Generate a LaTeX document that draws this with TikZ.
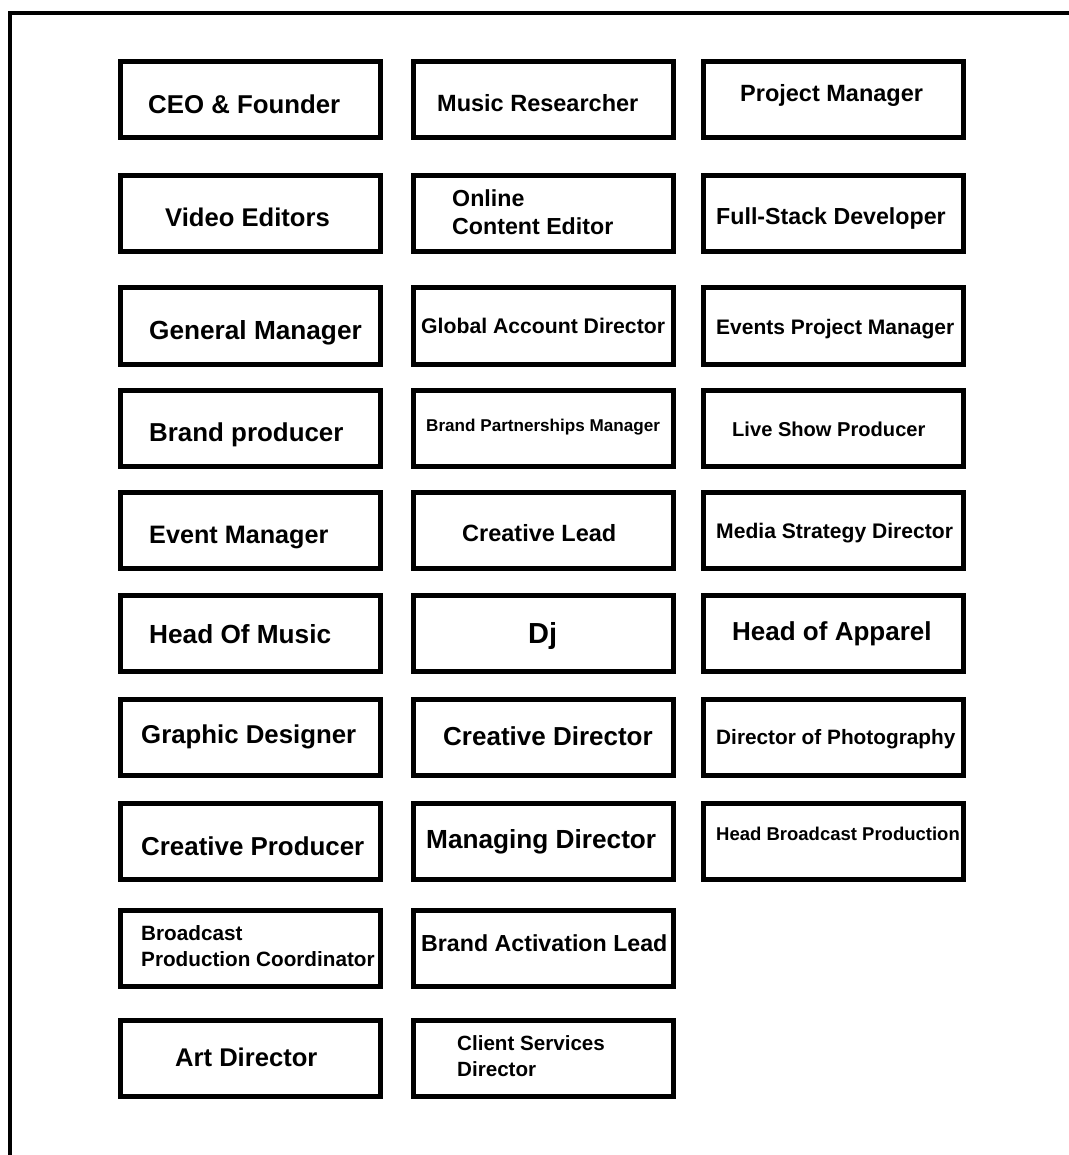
\documentclass[tikz,border=0pt]{standalone}
\usepackage{fontspec}
\setmainfont{Liberation Sans}
\usetikzlibrary{positioning}

\newcommand{\rolefont}[2][28]{\fontsize{#2}{#1}\selectfont\bfseries}

\begin{document}
\begin{tikzpicture}[x=1pt, y=-1pt,
	role/.style={draw, line width=5pt, minimum width=260pt, minimum height=76pt, inner sep=0pt},
	lbl/.style={anchor=base west, inner sep=0pt, align=left}]
	\useasboundingbox (0,0) rectangle (1068,1155);
	% Frame:
	\draw[line width=4.5pt] (10,1165) -- (10,13) -- (1075,13);

	% Boxes:
	\node[role] (ceo)          at (250.5,100)  {};
	\node[role] (research)     at (543,100)    {};
	\node[role] (pm)           at (833,100)    {};
	\node[role] (video)        at (250.5,213.5) {};
	\node[role] (online)       at (543,213.5)  {};
	\node[role] (fullstack)    at (833,213.5)  {};
	\node[role] (gm)           at (250.5,326)  {};
	\node[role] (globalacc)    at (543,326)    {};
	\node[role] (eventspm)     at (833,326)    {};
	\node[role] (brandprod)    at (250.5,428)  {};
	\node[role] (partner)      at (543,428)    {};
	\node[role] (liveshow)     at (833,428)    {};
	\node[role] (eventmgr)     at (250.5,530.5) {};
	\node[role] (creativelead) at (543,530.5)  {};
	\node[role] (mediastrat)   at (833,530.5)  {};
	\node[role] (music)        at (250.5,633.5) {};
	\node[role] (dj)           at (543,633.5)  {};
	\node[role] (apparel)      at (833,633.5)  {};
	\node[role] (graphic)      at (250.5,737)  {};
	\node[role] (creativedir)  at (543,737)    {};
	\node[role] (photo)        at (833,737)    {};
	\node[role] (creativeprod) at (250.5,841.5) {};
	\node[role] (md)           at (543,841.5)  {};
	\node[role] (broadcast)    at (833,841.5)  {};
	\node[role] (coord)        at (250.5,948.5) {};
	\node[role] (activation)   at (543,948.5)  {};
	\node[role] (art)          at (250.5,1058.5) {};
	\node[role] (clients)      at (543,1058.5) {};

	% Titles (two-line ones sit on the baseline of their last line):
	\node[lbl, font=\rolefont{25.8}] (ceo-t)          at (148,113.3)  {CEO \& Founder};
	\node[lbl, font=\rolefont{23.5}] (research-t)     at (437,111.4)  {Music Researcher};
	\node[lbl, font=\rolefont{23.5}] (pm-t)           at (740,101.7)  {Project Manager};
	\node[lbl, font=\rolefont{25.6}] (video-t)        at (165,227)    {Video Editors};
	\node[lbl, font=\rolefont{23.2}] (online-t)       at (452,235)    {Online\\Content Editor};
	\node[lbl, font=\rolefont{23.2}] (fullstack-t)    at (716,225)    {Full-Stack Developer};
	\node[lbl, font=\rolefont{26.2}] (gm-t)           at (149,339.5)  {General Manager};
	\node[lbl, font=\rolefont{21.2}] (globalacc-t)    at (421,333.3)  {Global Account Director};
	\node[lbl, font=\rolefont{21}]   (eventspm-t)     at (716,334.5)  {Events Project Manager};
	\node[lbl, font=\rolefont{25.9}] (brandprod-t)    at (149,441)    {Brand producer};
	\node[lbl, font=\rolefont{17.1}] (partner-t)      at (426,431.7)  {Brand Partnerships Manager};
	\node[lbl, font=\rolefont{20.1}] (liveshow-t)     at (732,436)    {Live Show Producer};
	\node[lbl, font=\rolefont{25.2}] (eventmgr-t)     at (149,543)    {Event Manager};
	\node[lbl, font=\rolefont{23.5}] (creativelead-t) at (462,541.5)  {Creative Lead};
	\node[lbl, font=\rolefont{21.1}] (mediastrat-t)   at (716,538.5)  {Media Strategy Director};
	\node[lbl, font=\rolefont{26.2}] (music-t)        at (149,643.5)  {Head Of Music};
	\node[lbl, font=\rolefont{29}]   (dj-t)           at (528,643.3)  {Dj};
	\node[lbl, font=\rolefont{26}]   (apparel-t)      at (732,640)    {Head of Apparel};
	\node[lbl, font=\rolefont{25.8}] (graphic-t)      at (141,743.3)  {Graphic Designer};
	\node[lbl, font=\rolefont{26}]   (creativedir-t)  at (443,745)    {Creative Director};
	\node[lbl, font=\rolefont{20.8}] (photo-t)        at (716,744.5)  {Director of Photography};
	\node[lbl, font=\rolefont{25.9}] (creativeprod-t) at (141,855)    {Creative Producer};
	\node[lbl, font=\rolefont{26.2}] (md-t)           at (426,848.3)  {Managing Director};
	\node[lbl, font=\rolefont{18.5}] (broadcast-t)    at (716,840)    {Head Broadcast Production};
	\node[lbl, font={\rolefont[26]{20.7}}] (coord-t)  at (141,966)    {Broadcast\\Production Coordinator};
	\node[lbl, font=\rolefont{23.2}] (activation-t)   at (421,951.7)  {Brand Activation Lead};
	\node[lbl, font=\rolefont{25.6}] (art-t)          at (175,1066.7) {Art Director};
	\node[lbl, font={\rolefont[26.5]{20.6}}] (clients-t) at (457,1076.5) {Client Services\\Director};
\end{tikzpicture}
\end{document}
